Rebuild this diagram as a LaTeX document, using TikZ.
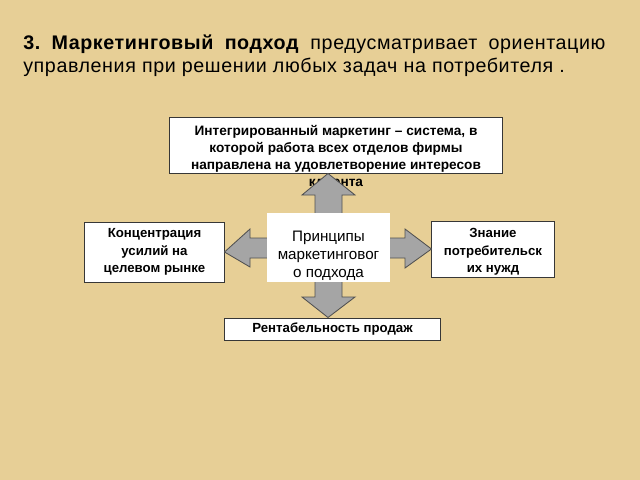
\documentclass[tikz,border=0pt]{standalone}
\usepackage{fontspec}
\setmainfont{Liberation Sans}
\usetikzlibrary{calc}
\definecolor{parch}{RGB}{231,207,150}
\definecolor{arrgray}{RGB}{165,165,165}
\definecolor{arrline}{RGB}{80,80,80}
\definecolor{boxline}{RGB}{55,55,55}
\tikzset{
  box/.style={draw=boxline, line width=0.7pt, fill=white, align=center, inner sep=0pt,
    font=\fontsize{9.4}{12.3}\selectfont\bfseries},
  boxtext/.style={align=center, inner sep=0pt, font=\fontsize{9.7}{12.1}\selectfont\bfseries},
  titletext/.style={anchor=base west, inner sep=0pt,
    font=\fontsize{14}{16}\selectfont\addfontfeatures{LetterSpace=3}\frenchspacing}
}
\begin{document}
\begin{tikzpicture}[x=0.025cm, y=-0.025cm]

   \fill[parch] (0,0) rectangle (640,480);
   \useasboundingbox (0,0) rectangle (640,480);

   \node[titletext] (title1) at (23,49) {\hbox to 414pt{\textbf{3. Маркетинговый подход} предусматривает ориентацию}};
   \node[titletext] (title2) at (23,72) {управления при решении любых задач на потребителя .};

   \node[box, minimum width=8.3cm, minimum height=1.4cm] (integr) at (336,145) {};
   \node[boxtext] (integrtext) at (336,156) {Интегрированный маркетинг – система, в\\которой работа всех отделов фирмы\\направлена на удовлетворение интересов\\клиента};

   \node[box, minimum width=3.475cm, minimum height=1.5cm] (conc) at (154.5,252) {Концентрация\\усилий на\\целевом рынке};
   \node[box, minimum width=3.05cm, minimum height=1.4cm] (znan) at (493,249) {};
   \node[boxtext, font=\fontsize{9.4}{12.3}\selectfont\bfseries] (znantext) at (493,252) {Знание\\потребительск\\их нужд};
   \node[box, minimum width=5.375cm, minimum height=0.55cm] (rent) at (332.5,329) {Рентабельность продаж};

   \coordinate (mid) at (328,248);
   \filldraw[fill=arrgray, draw=arrline, line width=0.6pt]
     (mid |- integr.south) -- (355,195) -- (342,195) -- (342,238) -- (405,238) -- (405,229)
     -- (znan.west) -- (405,268) -- (405,258) -- (342,258) -- (342,297) -- (355,297)
     -- (mid |- rent.north) -- (302,297) -- (315,297) -- (315,258) -- (250,258) -- (250,267)
     -- (conc.east) -- (250,229) -- (250,238) -- (315,238) -- (315,195) -- (302,195) -- cycle;

   \node[fill=white, minimum width=3.075cm, minimum height=1.725cm, inner sep=0pt] (princ) at (328.5,247.5) {};
   \node[align=center, inner sep=0pt, font=\fontsize{10.8}{13}\selectfont] (princtext) at (328.5,256) {Принципы\\маркетинговог\\о подхода};

\end{tikzpicture}
\end{document}
